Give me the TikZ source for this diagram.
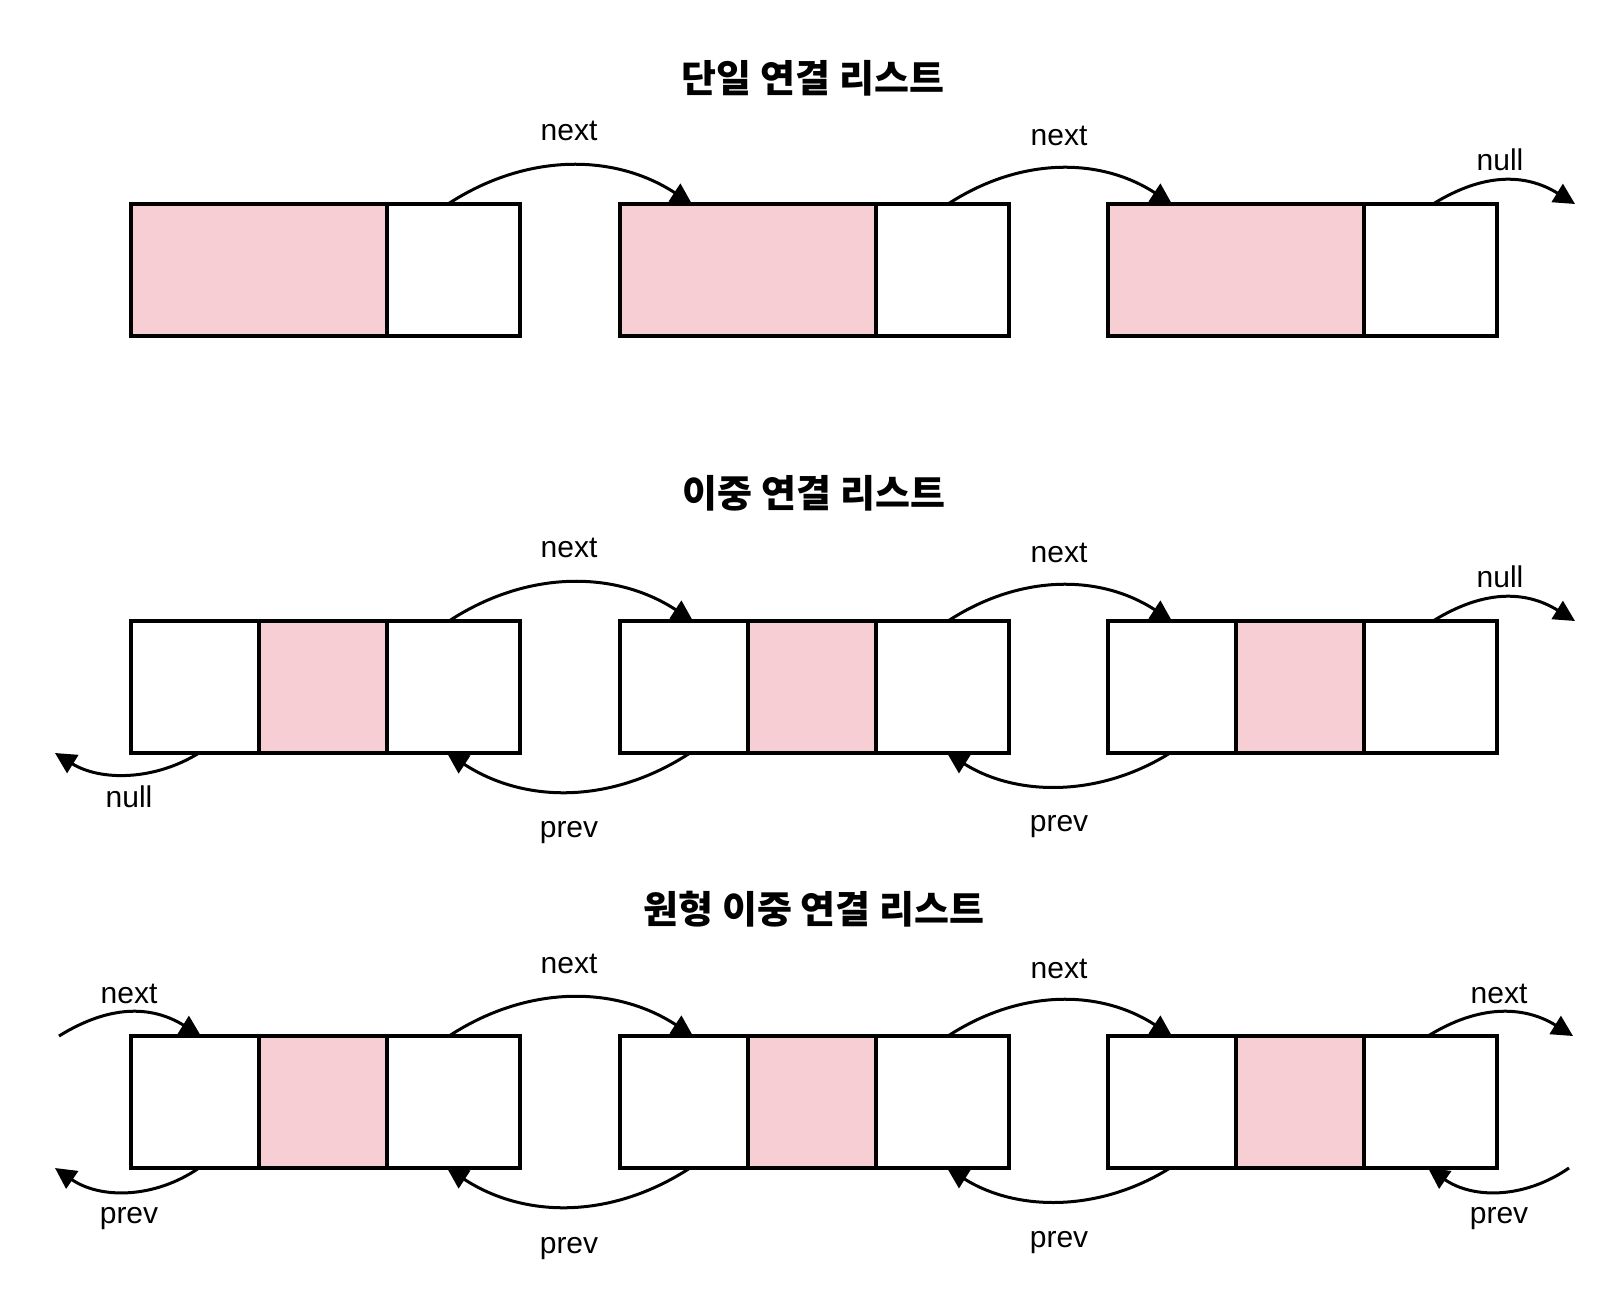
\documentclass[tikz,border=0pt]{standalone}
\usepackage{fontspec}
\setmainfont{Liberation Sans}
\newfontfamily\krfont{Noto Sans CJK KR}
\usetikzlibrary{arrows.meta}
\definecolor{cellpink}{HTML}{F6CED4}
\tikzset{
  cellbox/.style={draw=none, minimum height=132pt, inner sep=0pt, anchor=north west, fill=white},
  narrow/.style={cellbox, minimum width=128pt},
  wide/.style={cellbox, minimum width=133pt},
  pinkwide/.style={cellbox, fill=cellpink, minimum width=256pt},
  pinknarrow/.style={cellbox, fill=cellpink, minimum width=128pt},
  boxline/.style={draw=black, line width=4pt},
  link/.style={line width=3pt, -{Triangle[length=21pt,width=21pt]}},
  lbl/.style={anchor=base, font=\fontsize{30}{36}\selectfont, inner sep=0pt},
  ttl/.style={anchor=base, font=\krfont\bfseries\fontsize{38}{46}\selectfont, inner sep=0pt}
}
\begin{document}
\begin{tikzpicture}[x=1pt,y=-1pt]
\useasboundingbox[fill=white] (0,0) rectangle (1622,1302);
% titles
\node[ttl] (t1) at (813,92) {단일 연결 리스트};
\node[ttl] (t2) at (814,507) {이중 연결 리스트};
\node[ttl] (t3) at (814,923) {원형 이중 연결 리스트};
% row 1
\foreach \i/\x in {1/131,2/620,3/1108}{
  \node[pinkwide] (a\i p) at (\x,204) {};
  \node[wide] (a\i n) at (\x+256,204) {};
  \draw[boxline] (a\i p.north west) rectangle (a\i n.south east);
  \draw[boxline] (a\i p.north east) -- (a\i p.south east);
}
% row 2
\foreach \i/\x in {1/131,2/620,3/1108}{
  \node[narrow] (b\i l) at (\x,621) {};
  \node[pinknarrow] (b\i d) at (\x+128,621) {};
  \node[wide] (b\i n) at (\x+256,621) {};
  \draw[boxline] (b\i l.north west) rectangle (b\i n.south east);
  \draw[boxline] (b\i l.north east) -- (b\i l.south east);
  \draw[boxline] (b\i d.north east) -- (b\i d.south east);
}
% row 3
\foreach \i/\x in {1/131,2/620,3/1108}{
  \node[narrow] (c\i l) at (\x,1036) {};
  \node[pinknarrow] (c\i d) at (\x+128,1036) {};
  \node[wide] (c\i n) at (\x+256,1036) {};
  \draw[boxline] (c\i l.north west) rectangle (c\i n.south east);
  \draw[boxline] (c\i l.north east) -- (c\i l.south east);
  \draw[boxline] (c\i d.north east) -- (c\i d.south east);
}
% row 1 connectors
\coordinate (a1s) at (448,204); \coordinate (a1e) at (692,204);
\coordinate (a2s) at (948,204); \coordinate (a2e) at (1172,204);
\coordinate (a3s) at (1433,204); \coordinate (a3e) at (1575,204);
\draw[link] (a1s) .. controls +(78,-51) and +(-78,-51) .. (a1e);
\draw[link] (a2s) .. controls +(72,-47) and +(-72,-47) .. (a2e);
\draw[link] (a3s) .. controls +(50,-31) and +(-50,-31) .. (a3e);
\node[lbl] (la1) at (569,140) {next};
\node[lbl] (la2) at (1059,145) {next};
\node[lbl] (la3) at (1500,170) {null};
% row 2
\coordinate (b1s) at (449,621); \coordinate (b1e) at (693,621);
\coordinate (b2s) at (948,621); \coordinate (b2e) at (1172,621);
\coordinate (b3s) at (1433,621); \coordinate (b3e) at (1575,621);
\coordinate (b4s) at (690,753); \coordinate (b4e) at (447,753);
\coordinate (b5s) at (1170,753); \coordinate (b5e) at (947,753);
\coordinate (b6s) at (199,753); \coordinate (b6e) at (55,753);
\draw[link] (b1s) .. controls +(78,-51) and +(-78,-51) .. (b1e);
\draw[link] (b2s) .. controls +(72,-47) and +(-72,-47) .. (b2e);
\draw[link] (b3s) .. controls +(50,-31) and +(-50,-31) .. (b3e);
\draw[link] (b4s) .. controls +(-78,51) and +(78,51) .. (b4e);
\draw[link] (b5s) .. controls +(-70,44) and +(70,44) .. (b5e);
\draw[link] (b6s) .. controls +(-45,28) and +(45,28) .. (b6e);
\node[lbl] (lb1) at (569,557) {next};
\node[lbl] (lb2) at (1059,562) {next};
\node[lbl] (lb3) at (1500,587) {null};
\node[lbl] (lb4) at (569,837) {prev};
\node[lbl] (lb5) at (1059,831) {prev};
\node[lbl] (lb6) at (129,807) {null};
% row 3
\coordinate (c0s) at (59,1036); \coordinate (c0e) at (201,1036);
\coordinate (c1s) at (449,1036); \coordinate (c1e) at (693,1036);
\coordinate (c2s) at (948,1036); \coordinate (c2e) at (1172,1036);
\coordinate (c3s) at (1428,1036); \coordinate (c3e) at (1573,1036);
\coordinate (c4s) at (690,1168); \coordinate (c4e) at (447,1168);
\coordinate (c5s) at (1170,1168); \coordinate (c5e) at (947,1168);
\coordinate (c6s) at (199,1168); \coordinate (c6e) at (55,1168);
\coordinate (c7s) at (1569,1168); \coordinate (c7e) at (1428,1168);
\draw[link] (c0s) .. controls +(50,-31) and +(-50,-31) .. (c0e);
\draw[link] (c1s) .. controls +(78,-51) and +(-78,-51) .. (c1e);
\draw[link] (c2s) .. controls +(72,-47) and +(-72,-47) .. (c2e);
\draw[link] (c3s) .. controls +(50,-31) and +(-50,-31) .. (c3e);
\draw[link] (c4s) .. controls +(-78,51) and +(78,51) .. (c4e);
\draw[link] (c5s) .. controls +(-70,44) and +(70,44) .. (c5e);
\draw[link] (c6s) .. controls +(-45,31) and +(45,31) .. (c6e);
\draw[link] (c7s) .. controls +(-45,31) and +(45,31) .. (c7e);
\node[lbl] (lc0) at (129,1003) {next};
\node[lbl] (lc1) at (569,973) {next};
\node[lbl] (lc2) at (1059,978) {next};
\node[lbl] (lc3) at (1499,1003) {next};
\node[lbl] (lc4) at (569,1253) {prev};
\node[lbl] (lc5) at (1059,1247) {prev};
\node[lbl] (lc6) at (129,1223) {prev};
\node[lbl] (lc7) at (1499,1223) {prev};
\end{tikzpicture}
\end{document}
